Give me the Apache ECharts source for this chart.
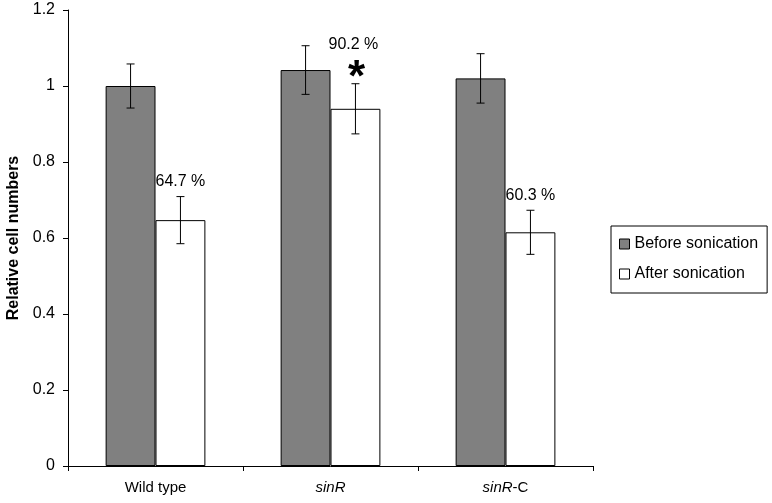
<!DOCTYPE html>
<html>
<head>
<meta charset="utf-8">
<script src="https://cdn.jsdelivr.net/npm/echarts@6/dist/echarts.min.js"></script>
<style>html,body{margin:0;padding:0;background:#fff}#c{width:772px;height:503px}</style>
</head>
<body>
<div id="c"></div>
<script>
var categories = ['Wild type', 'sinR', 'sinR-C'];
var seriesNames = ['Before sonication', 'After sonication'];
var beforeValues = [1.0, 1.042, 1.02];
var afterValues = [0.647, 0.94, 0.615];
var beforeErrors = [0.058, 0.064, 0.065];
var afterErrors = [0.062, 0.066, 0.058];
var percentLabels = ['64.7 %', '90.2 %', '60.3 %'];
var significance = ['', '*', ''];
var yTicks = { min: 0, max: 1.2, interval: 0.2 };

var FONT = '"Liberation Sans", Arial, sans-serif';
var chart = echarts.init(document.getElementById('c'), null, { renderer: 'canvas' });

function errData(vals, errs, showLabels) {
  return vals.map(function (v, i) {
    return [i, v - errs[i], v + errs[i], showLabels ? percentLabels[i] : '', showLabels ? significance[i] : ''];
  });
}

function makeErrRender(side) {
  return function (params, api) {
    var idx = api.value(0);
    var lo = api.coord([idx, api.value(1)]);
    var hi = api.coord([idx, api.value(2)]);
    var band = api.size([1, 0])[0];
    var barW = band * 0.57 / 2;
    var x = lo[0] + side * barW / 2;
    var cap = 4;
    var style = { stroke: '#000', lineWidth: 1 };
    var children = [
      { type: 'line', shape: { x1: x, y1: lo[1], x2: x, y2: hi[1] }, style: style },
      { type: 'line', shape: { x1: x - cap, y1: lo[1], x2: x + cap, y2: lo[1] }, style: style },
      { type: 'line', shape: { x1: x - cap, y1: hi[1], x2: x + cap, y2: hi[1] }, style: style }
    ];
    var label = api.value(3);
    var mark = api.value(4);
    if (mark) {
      children.push({ type: 'text', style: { text: mark, x: x + 1, y: hi[1] + 17, align: 'center', verticalAlign: 'bottom', font: 'bold 44px ' + FONT, fill: '#000' } });
      children.push({ type: 'text', style: { text: label, x: x - 2, y: hi[1] - 39, align: 'center', verticalAlign: 'middle', font: '16px ' + FONT, fill: '#000' } });
    } else if (label) {
      children.push({ type: 'text', style: { text: label, x: x, y: hi[1] - 15, align: 'center', verticalAlign: 'middle', font: '16px ' + FONT, fill: '#000' } });
    }
    return { type: 'group', children: children };
  };
}

var option = {
  animation: false,
  backgroundColor: '#fff',
  grid: { left: 68, right: 179, top: 10, bottom: 37, containLabel: false, outerBoundsMode: 'none' },
  legend: {
    orient: 'vertical',
    left: 611, top: 226,
    padding: [10, 9, 11, 8],
    itemGap: 14,
    itemWidth: 10, itemHeight: 10,
    borderColor: '#000', borderWidth: 1,
    icon: 'rect',
    textStyle: { fontFamily: FONT, fontSize: 16, color: '#000' },
    data: [
      { name: seriesNames[0], itemStyle: { color: '#808080', borderColor: '#000', borderWidth: 1 } },
      { name: seriesNames[1], itemStyle: { color: '#fff', borderColor: '#000', borderWidth: 1 } }
    ]
  },
  xAxis: {
    type: 'category',
    data: categories,
    boundaryGap: true,
    axisLine: { lineStyle: { color: '#000', width: 1 } },
    axisTick: { show: true, length: 5, lineStyle: { color: '#000' } },
    axisLabel: {
      margin: 14,
      fontFamily: FONT, fontSize: 15, color: '#000',
      formatter: function (v) {
        if (v.indexOf('sinR') === 0) return '{i|sinR}' + v.slice(4);
        return v;
      },
      rich: { i: { fontStyle: 'italic', fontFamily: FONT, fontSize: 15, color: '#000' } }
    }
  },
  yAxis: {
    type: 'value',
    min: yTicks.min, max: yTicks.max, interval: yTicks.interval,
    name: 'Relative cell numbers',
    nameLocation: 'middle',
    nameGap: 46,
    nameTextStyle: { fontFamily: FONT, fontSize: 16, fontWeight: 'bold', color: '#000' },
    axisLine: { show: true, lineStyle: { color: '#000', width: 1 } },
    axisTick: { show: true, length: 5, lineStyle: { color: '#000' } },
    splitLine: { show: false },
    axisLabel: { margin: 13, fontFamily: FONT, fontSize: 16, color: '#000' }
  },
  series: [
    {
      name: seriesNames[0], type: 'bar', data: beforeValues,
      barGap: '0%', barCategoryGap: '43%',
      itemStyle: { color: '#808080', borderColor: '#000', borderWidth: 1 }
    },
    {
      name: seriesNames[1], type: 'bar', data: afterValues,
      barGap: '0%', barCategoryGap: '43%',
      itemStyle: { color: '#fff', borderColor: '#000', borderWidth: 1 }
    },
    {
      type: 'custom', name: 'errBefore', renderItem: makeErrRender(-1),
      data: errData(beforeValues, beforeErrors, false), encode: { x: 0, y: [1, 2] }, z: 5, silent: true
    },
    {
      type: 'custom', name: 'errAfter', renderItem: makeErrRender(1),
      data: errData(afterValues, afterErrors, true), encode: { x: 0, y: [1, 2] }, z: 5, silent: true
    }
  ]
};
chart.setOption(option);
</script>
</body>
</html>
